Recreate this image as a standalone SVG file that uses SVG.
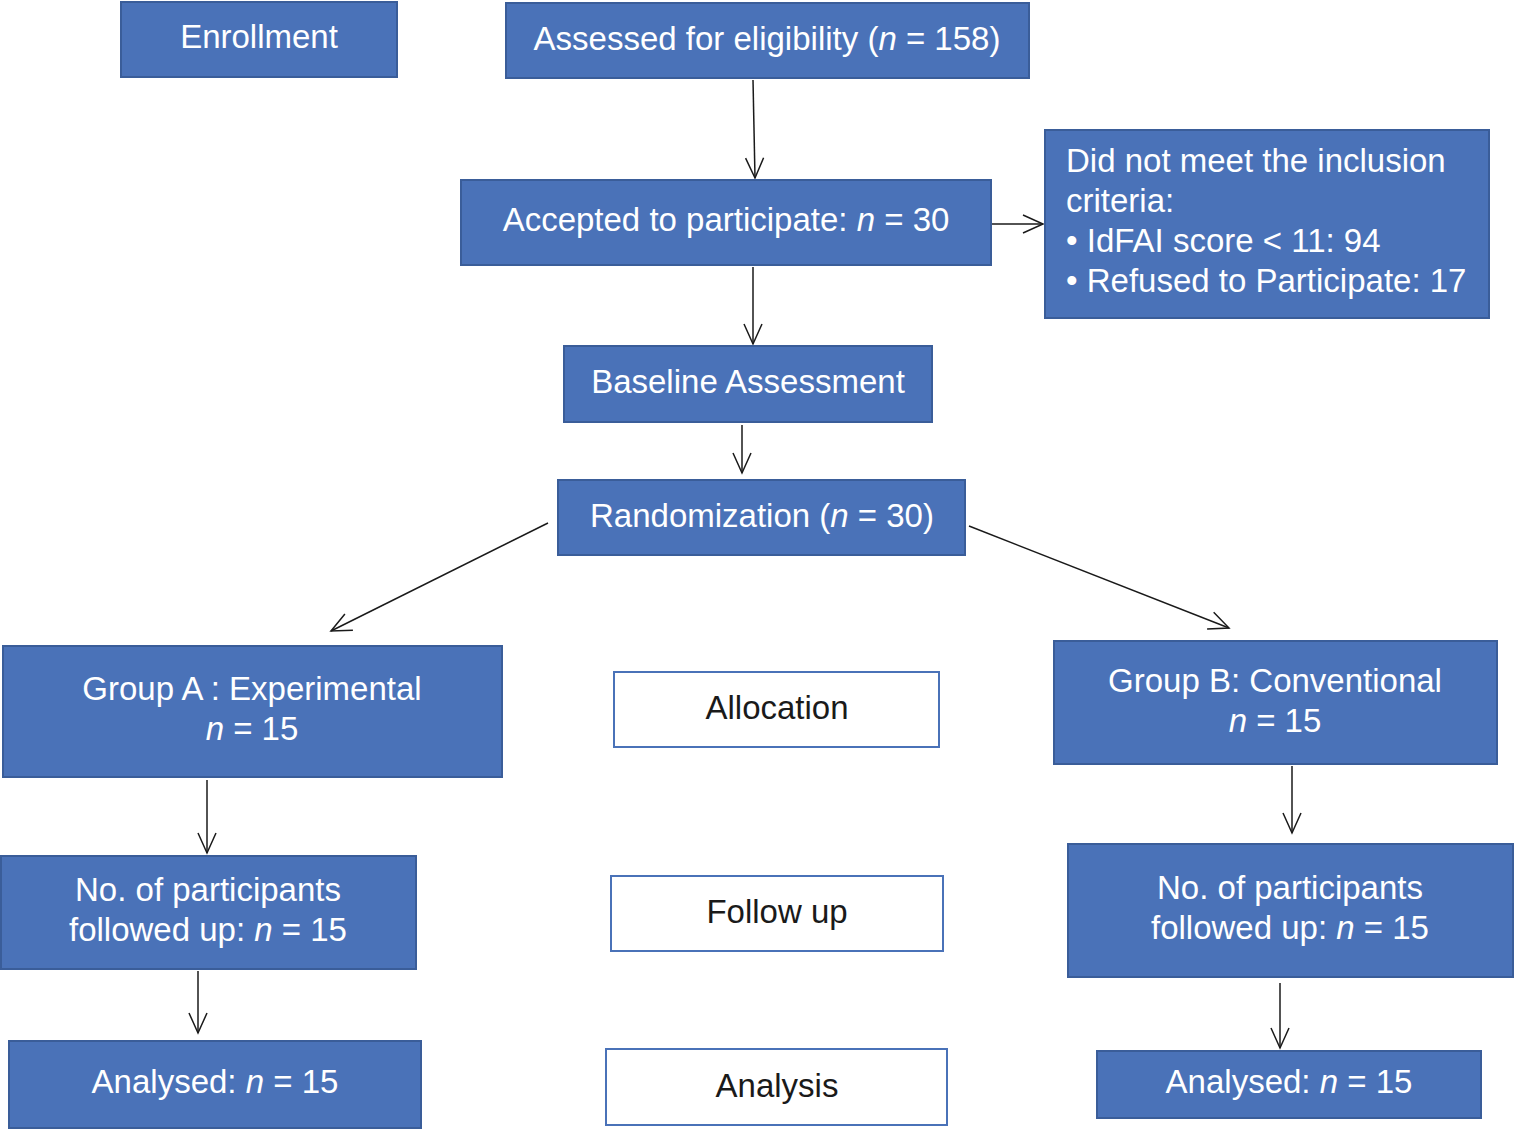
<svg xmlns="http://www.w3.org/2000/svg" width="1514" height="1130" viewBox="0 0 1514 1130">
<style>
.b{fill:#4a72b8;stroke:#3a5d99;stroke-width:2}
.w{fill:#ffffff;stroke:#4a72b8;stroke-width:2}
text{font-family:"Liberation Sans",Arial,sans-serif;font-size:33px}
.bt{fill:#ffffff}
.wt{fill:#1a1a1a}
.c{text-anchor:middle}
#connectors line{stroke:#1a1a1a;stroke-width:1.5;fill:none}
</style>
<defs>
<marker id="ah" markerUnits="userSpaceOnUse" markerWidth="24" markerHeight="24" viewBox="-22 -12 24 24" refX="0" refY="0" orient="auto">
<path d="M -20 -9 L 0 0 L -20 9" fill="none" stroke="#1a1a1a" stroke-width="1.5"/>
</marker>
</defs>
<g id="connectors">
<line x1="753" y1="80" x2="755" y2="178" marker-end="url(#ah)"/>
<line x1="753" y1="267" x2="753" y2="344" marker-end="url(#ah)"/>
<line x1="992" y1="224" x2="1043" y2="224" marker-end="url(#ah)"/>
<line x1="742" y1="425" x2="742" y2="473" marker-end="url(#ah)"/>
<line x1="548" y1="523" x2="331" y2="631" marker-end="url(#ah)"/>
<line x1="969" y1="526" x2="1229" y2="628" marker-end="url(#ah)"/>
<line x1="207" y1="780" x2="207" y2="853" marker-end="url(#ah)"/>
<line x1="198" y1="971" x2="198" y2="1033" marker-end="url(#ah)"/>
<line x1="1292" y1="766" x2="1292" y2="833" marker-end="url(#ah)"/>
<line x1="1280" y1="983" x2="1280" y2="1048" marker-end="url(#ah)"/>
</g>
<g id="enrollment"><rect class="b" x="121" y="2" width="276" height="75"/><text class="bt c" x="259" y="48">Enrollment</text></g>
<g id="assessed"><rect class="b" x="506" y="3" width="523" height="75"/><text class="bt c" x="767" y="50">Assessed for eligibility (<tspan font-style="italic">n</tspan> = 158)</text></g>
<g id="accepted"><rect class="b" x="461" y="180" width="530" height="85"/><text class="bt c" x="726" y="231">Accepted to participate: <tspan font-style="italic">n</tspan> = 30</text></g>
<g id="excluded"><rect class="b" x="1045" y="130" width="444" height="188"/>
<text class="bt" x="1066" y="172">Did not meet the inclusion</text>
<text class="bt" x="1066" y="212">criteria:</text>
<text class="bt" x="1066" y="252">• IdFAI score &lt; 11: 94</text>
<text class="bt" x="1066" y="292">• Refused to Participate: 17</text></g>
<g id="baseline"><rect class="b" x="564" y="346" width="368" height="76"/><text class="bt c" x="748" y="393">Baseline Assessment</text></g>
<g id="randomization"><rect class="b" x="558" y="480" width="407" height="75"/><text class="bt c" x="762" y="527">Randomization (<tspan font-style="italic">n</tspan> = 30)</text></g>
<g id="groupA"><rect class="b" x="3" y="646" width="499" height="131"/><text class="bt c" x="252" y="700">Group A : Experimental</text><text class="bt c" x="252" y="740"><tspan font-style="italic">n</tspan> = 15</text></g>
<g id="allocation"><rect class="w" x="614" y="672" width="325" height="75"/><text class="wt c" x="777" y="719">Allocation</text></g>
<g id="groupB"><rect class="b" x="1054" y="641" width="443" height="123"/><text class="bt c" x="1275" y="692">Group B: Conventional</text><text class="bt c" x="1275" y="732"><tspan font-style="italic">n</tspan> = 15</text></g>
<g id="followA"><rect class="b" x="1" y="856" width="415" height="113"/><text class="bt c" x="208" y="901">No. of participants</text><text class="bt c" x="208" y="941">followed up: <tspan font-style="italic">n</tspan> = 15</text></g>
<g id="followup"><rect class="w" x="611" y="876" width="332" height="75"/><text class="wt c" x="777" y="923">Follow up</text></g>
<g id="followB"><rect class="b" x="1068" y="844" width="445" height="133"/><text class="bt c" x="1290" y="899">No. of participants</text><text class="bt c" x="1290" y="939">followed up: <tspan font-style="italic">n</tspan> = 15</text></g>
<g id="analysedA"><rect class="b" x="9" y="1041" width="412" height="87"/><text class="bt c" x="215" y="1093">Analysed: <tspan font-style="italic">n</tspan> = 15</text></g>
<g id="analysis"><rect class="w" x="606" y="1049" width="341" height="76"/><text class="wt c" x="777" y="1097">Analysis</text></g>
<g id="analysedB"><rect class="b" x="1097" y="1051" width="384" height="67"/><text class="bt c" x="1289" y="1093">Analysed: <tspan font-style="italic">n</tspan> = 15</text></g>
</svg>
